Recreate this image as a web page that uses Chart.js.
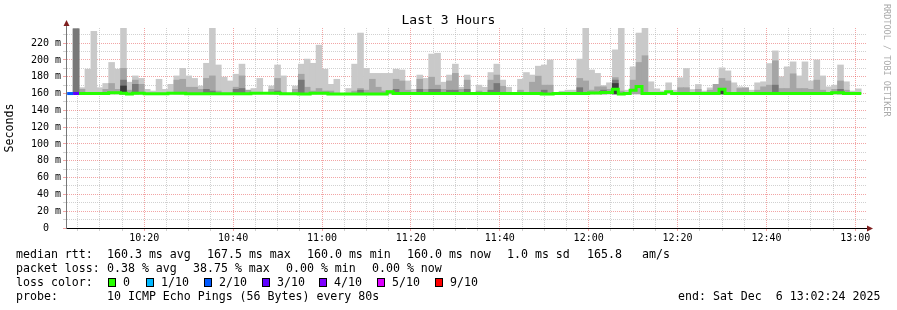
<!DOCTYPE html>
<html lang="en">
<head>
<meta charset="UTF-8">
<title>Last 3 Hours</title>
<script src="https://cdn.jsdelivr.net/npm/chart.js"></script>
<style>
  body { margin: 0; background: #fff; }
  #wrap { position: relative; width: 897px; height: 310px; font-family: "DejaVu Sans Mono", monospace; color: #000; }
  #wrap canvas { position: absolute; left: 0; top: 0; }
  .t { position: absolute; font-size: 11.6px; line-height: 14px; white-space: pre; }
  .box { position: absolute; top: 278px; width: 6px; height: 7px; border: 1px solid #000; }
  #title { position: absolute; left: 0; width: 897px; top: 12px; text-align: center; font-size: 13px; line-height: 16px; white-space: pre; }
  #mark { position: absolute; left: 882px; top: 4px; writing-mode: vertical-rl; font-size: 8.5px; color: #aaa; white-space: pre; }
</style>
</head>
<body>
<div id="wrap">
  <canvas id="smoke" width="897" height="310"></canvas>
  <div id="title">Last 3 Hours</div>
  <div id="mark">RRDTOOL / TOBI OETIKER</div>

  <div class="t" style="left:16px; top:247px">median rtt:</div>
  <div class="t" style="left:107px; top:247px">160.3 ms avg</div>
  <div class="t" style="left:207px; top:247px">167.5 ms max</div>
  <div class="t" style="left:307px; top:247px">160.0 ms min</div>
  <div class="t" style="left:407px; top:247px">160.0 ms now</div>
  <div class="t" style="left:507px; top:247px">1.0 ms sd</div>
  <div class="t" style="left:587px; top:247px">165.8</div>
  <div class="t" style="left:642px; top:247px">am/s</div>

  <div class="t" style="left:16px; top:261px">packet loss:</div>
  <div class="t" style="left:107px; top:261px">0.38 % avg</div>
  <div class="t" style="left:193px; top:261px">38.75 % max</div>
  <div class="t" style="left:286px; top:261px">0.00 % min</div>
  <div class="t" style="left:372px; top:261px">0.00 % now</div>

  <div class="t" style="left:16px; top:275px">loss color:</div>
  <div class="box" style="left:108px; background:#26ff00"></div>
  <div class="t" style="left:123px; top:275px">0</div>
  <div class="box" style="left:146px; background:#00b8ff"></div>
  <div class="t" style="left:161px; top:275px">1/10</div>
  <div class="box" style="left:204px; background:#0059ff"></div>
  <div class="t" style="left:219px; top:275px">2/10</div>
  <div class="box" style="left:262px; background:#5e00ff"></div>
  <div class="t" style="left:277px; top:275px">3/10</div>
  <div class="box" style="left:319px; background:#7e00ff"></div>
  <div class="t" style="left:334px; top:275px">4/10</div>
  <div class="box" style="left:377px; background:#dd00ff"></div>
  <div class="t" style="left:392px; top:275px">5/10</div>
  <div class="box" style="left:435px; background:#ff0000"></div>
  <div class="t" style="left:450px; top:275px">9/10</div>

  <div class="t" style="left:16px; top:289px">probe:</div>
  <div class="t" style="left:107px; top:289px">10 ICMP Echo Pings (56 Bytes) every 80s</div>
  <div class="t" style="left:678px; top:289px">end: Sat Dec  6 13:02:24 2025</div>
</div>

<script>
// time window, seconds since midnight
const startTime = 10 * 3600 + 2 * 60 + 24;   // 10:02:24
const endTime = 13 * 3600 + 2 * 60 + 24;     // 13:02:24
const firstStep = 10 * 3600 + 2 * 60 + 40;   // first 80 s rrd step
const stepSec = 80;

const xTickLabels = ['10:20', '10:40', '11:00', '11:20', '11:40', '12:00', '12:20', '12:40', '13:00'];
const yTickValues = [0, 10, 20, 30, 40, 50, 60, 70, 80, 90, 100, 110, 120, 130, 140, 150, 160, 170, 180, 190, 200, 210, 220, 230];
const yTickLabels = ['0', '20 m', '40 m', '60 m', '80 m', '100 m', '120 m', '140 m', '160 m', '180 m', '200 m', '220 m'];
const yMax = 238;

const lossColors = { 0: '#26ff00', 1: '#00b8ff', 2: '#0059ff', 3: '#5e00ff', 4: '#7e00ff', 5: '#dd00ff', 9: '#ff0000' };

// smoke bands (ms), one value per 80 s step, null = nothing drawn
const smokeBase = 159.6;
const smokeMax = [
  null, 237, 167, 189, 234, 167, 172, 197, 189, 238,
  173.5, 181, 178, 165, 163, 177, 165, 171, 181, 190,
  181, 178, 169, 196, 238, 194, 179.5, 175, 183, 195,
  164, 166, 178, null, 169, 194, 181, null, 169, 195,
  201, 196, 217.6, 189, 171, 177, null, 166, 195, 232,
  190, 184, 184, 184, 184, 189, 188, 175, 165, 182,
  178, 207, 208, 173.5, 182, 195, 167.5, 182, null, 170,
  167.5, 185, 195, 176, 167.5, null, 177, 185, 182, 192.6,
  194, 200, null, 162.8, 164, 164, 201, 238, 188, 184,
  169.6, 172.8, 212, 238, 164, 191.8, 232, 238, 174, 165.6,
  163, 172.8, 164, 178.7, 189.8, 164.8, 170.8, 163, 166.8, 171,
  190.6, 187, 172.8, 168, 166.8, 164, 172.8, 174, 195.7, 210.8,
  180, 191.8, 197.7, 181, 197.7, 175, 200, 181, 168, 170,
  194, 174, 163, 165.6
];
const smokeMid = [
  null, 237, 165, null, null, null, 165, 172, 165, 190,
  164, 176, 171, null, null, null, null, null, 176, 177,
  167.5, 167.5, 165, 178, 181, 163, null, null, 167.5, 181,
  164, null, null, null, 165, 178, null, null, 165, 183,
  167.5, 163, 166, 163, 163, null, null, null, 163, 166,
  164, 177, 167.5, 163, 163, 177, 175, 164, null, 177,
  165, 179.5, 170, 165, 175, 184, 165, 176, null, 163,
  null, 176, 182, 168.7, null, null, 164, null, 173.5, 180.7,
  170, 170, null, null, null, null, 178, 175, 164, 168,
  168, 165, 179, 163, null, 176, 197, 205, null, null,
  null, null, null, 167, 167, null, 165, null, 164, 171,
  178, 175, null, 166, 166.8, null, 164, 168, 170, 199,
  166, 166, 183.5, 166, 166, 165, 176, 164, null, 165,
  175, 164, null, null
];
const smokeDark = [
  null, 237, null, null, null, null, null, null, null, 176,
  null, 171, null, null, null, null, null, null, null, null,
  null, null, null, 165, 163, null, null, null, 165, 166,
  null, null, null, null, null, 163, null, null, null, 176,
  null, null, null, null, null, null, null, null, null, 164,
  null, null, null, null, null, 165, null, null, null, 165,
  null, 165, 165, null, 164, 164, null, 165, null, null,
  null, 164, 172, null, null, null, null, null, null, null,
  164, null, null, null, null, null, 167, null, null, null,
  164, null, 176, null, null, null, null, null, null, null,
  null, null, null, null, null, null, null, null, null, null,
  166, null, null, null, null, null, null, null, null, 170,
  null, null, null, null, null, null, null, null, null, null,
  165, null, null, null
];
const smokeCore = [
  null, null, null, null, null, null, null, null, null, 169,
  null, null, null, null, null, null, null, null, null, null,
  null, null, null, null, null, null, null, null, null, null,
  null, null, null, null, null, null, null, null, null, null,
  null, null, null, null, null, null, null, null, null, null,
  null, null, null, null, null, null, null, null, null, null,
  null, null, null, null, null, null, null, null, null, null,
  null, null, null, null, null, null, null, null, null, null,
  null, null, null, null, null, null, null, null, null, null,
  null, null, 172, null, null, null, null, null, null, null,
  null, null, null, null, null, null, null, null, null, null,
  165.5, null, null, null, null, null, null, null, null, null,
  null, null, null, null, null, null, null, null, null, null,
  null, null, null, null
];
const medianRtt = [
  160, 160, 160.2, 160.2, 160.2, 160.2, 160.2, 161, 161, 160.4,
  159.5, 160.5, 160.5, 159.7, 159.7, 159.7, 159.7, 160.5, 160.5, 160.5,
  159.7, 159.7, 159.7, 159.7, 159.7, 159.7, 159.7, 159.7, 159.7, 159.7,
  159.7, 160.3, 160.3, 160.3, 160.3, 160.3, 159.8, 159.8, 159.8, 159.5,
  159.5, 160.4, 160.4, 160.4, 159.5, 159.5, 159.5, 159.5, 159.5, 159.5,
  159.5, 159.5, 159.5, 159.5, 162, 160, 160, 160, 160, 160,
  160, 160, 160, 160, 160, 160, 160, 160, 160, 160,
  160, 160, 160, 160, 160, 160, 160, 160, 160, 160,
  159.5, 159.5, 160, 160, 160, 160, 160, 160, 160.6, 160.6,
  161.3, 161.3, 165, 159.6, 160.2, 164, 168.5, 160, 160, 160,
  160, 162, 160, 160, 160, 160, 160, 160, 160, 160,
  165, 160, 160, 160, 160, 160, 160, 160, 160, 160,
  160, 160, 160, 160, 160, 160, 160, 160, 160, 161,
  161, 160, 160, 160
];
const lossTenths = [
  2, 3, 0, 0, 0, 0, 0, 0, 0, 0,
  0, 0, 0, 0, 0, 0, 0, 0, 0, 0,
  0, 0, 0, 0, 0, 0, 0, 0, 0, 0,
  0, 0, 0, 0, 0, 0, 0, 0, 0, 0,
  0, 0, 0, 0, 0, 0, 0, 0, 0, 0,
  0, 0, 0, 0, 0, 0, 0, 0, 0, 0,
  0, 0, 0, 0, 0, 0, 0, 0, 0, 0,
  0, 0, 0, 0, 0, 0, 0, 0, 0, 0,
  0, 0, 0, 0, 0, 0, 0, 0, 0, 0,
  0, 0, 0, 0, 0, 0, 0, 0, 0, 0,
  0, 0, 0, 0, 0, 0, 0, 0, 0, 0,
  0, 0, 0, 0, 0, 0, 0, 0, 0, 0,
  0, 0, 0, 0, 0, 0, 0, 0, 0, 0,
  0, 0, 0, 0
];

const stepStart = k => firstStep + k * stepSec;
const hhmm = s => String(Math.floor(s / 3600)).padStart(2, '0') + ':' + String(Math.floor(s % 3600 / 60)).padStart(2, '0');

function smokeLayer(tops) {
  const pts = [];
  tops.forEach((top, k) => {
    if (top != null) pts.push({ x: stepStart(k) + stepSec / 2, y: [smokeBase, top] });
  });
  return pts;
}

// median as a stepped line: each value holds for its whole step
const medianPts = medianRtt.map((v, k) => ({ x: stepStart(k), y: v }));
medianPts.push({ x: stepStart(medianRtt.length), y: medianRtt[medianRtt.length - 1] });

const gray = 'rgba(171,171,171,0.55)';
const red = 'rgba(222,31,31,0.4)';

const axisArrows = {
  id: 'axisArrows',
  afterDraw(chart) {
    const { ctx, chartArea: a } = chart;
    ctx.save();
    ctx.lineWidth = 1;
    ctx.strokeStyle = '#777';
    ctx.beginPath(); ctx.moveTo(a.left + 0.5, a.top); ctx.lineTo(a.left + 0.5, a.top - 4); ctx.stroke();
    ctx.strokeStyle = '#000';
    ctx.beginPath(); ctx.moveTo(a.right, a.bottom + 0.5); ctx.lineTo(a.right + 4, a.bottom + 0.5); ctx.stroke();
    ctx.fillStyle = '#7f1f1f';
    ctx.beginPath(); ctx.moveTo(a.left + 0.5, a.top - 8); ctx.lineTo(a.left - 2.5, a.top - 2); ctx.lineTo(a.left + 3.5, a.top - 2); ctx.fill();
    ctx.beginPath(); ctx.moveTo(a.right + 7, a.bottom + 0.5); ctx.lineTo(a.right + 1, a.bottom - 2.5); ctx.lineTo(a.right + 1, a.bottom + 3.5); ctx.fill();
    ctx.restore();
  }
};

Chart.defaults.font.family = '"DejaVu Sans Mono", monospace';
Chart.defaults.color = '#000';

const barOpts = { borderWidth: 0, grouped: false, barPercentage: 1, categoryPercentage: 1 };

new Chart(document.getElementById('smoke'), {
  type: 'bar',
  data: {
    datasets: [
      { type: 'line', data: medianPts, stepped: true, borderWidth: 3, pointRadius: 0,
        borderColor: lossColors[0], borderCapStyle: 'butt', order: 0,
        segment: { borderColor: c => lossColors[lossTenths[c.p0DataIndex]] || lossColors[0] } },
      { ...barOpts, data: smokeLayer(smokeCore), backgroundColor: 'rgb(60,60,60)', order: 1 },
      { ...barOpts, data: smokeLayer(smokeDark), backgroundColor: 'rgb(120,120,120)', order: 2 },
      { ...barOpts, data: smokeLayer(smokeMid), backgroundColor: 'rgb(165,165,165)', order: 3 },
      { ...barOpts, data: smokeLayer(smokeMax), backgroundColor: 'rgb(201,201,201)', order: 4 }
    ]
  },
  options: {
    responsive: false,
    animation: false,
    devicePixelRatio: 1,
    layout: { padding: { top: 28, right: 31, left: 0, bottom: 0 } },
    plugins: { legend: { display: false }, tooltip: { enabled: false }, title: { display: false } },
    scales: {
      x: {
        type: 'linear',
        min: startTime,
        max: endTime,
        offset: false,
        afterBuildTicks: scale => {
          const ticks = [];
          for (let s = Math.ceil(startTime / 300) * 300; s <= endTime; s += 300) ticks.push({ value: s });
          scale.ticks = ticks;
        },
        afterFit: scale => { scale.height = 82; scale.paddingLeft = 0; scale.paddingRight = 0; },
        ticks: {
          autoSkip: false,
          maxRotation: 0,
          padding: 1,
          font: { size: 10 },
          callback: v => (xTickLabels.includes(hhmm(v)) && v % 1200 === 0) ? hhmm(v) : ''
        },
        grid: {
          offset: false,
          tickLength: 3,
          color: c => (c.tick && c.tick.value % 1200 === 0) ? red : gray
        },
        border: { color: '#000', width: 1, dash: [1, 1] }
      },
      y: {
        min: 0,
        max: yMax,
        afterBuildTicks: scale => { scale.ticks = yTickValues.map(v => ({ value: v })); },
        afterFit: scale => { scale.width = 66; scale.paddingTop = 0; scale.paddingBottom = 0; },
        ticks: {
          autoSkip: false,
          padding: 2,
          font: { size: 10 },
          callback: v => {
            if (v % 20 !== 0) return '';
            const lbl = yTickLabels[v / 20];
            return v === 0 ? lbl + '  ' : lbl;
          }
        },
        grid: {
          tickLength: 3,
          color: c => (c.tick && c.tick.value % 20 === 0) ? red : gray
        },
        border: { color: '#777', width: 1, dash: [1, 1] },
        title: { display: true, text: 'Seconds', font: { size: 11.6 }, padding: { top: 3, bottom: 0 } }
      }
    }
  },
  plugins: [axisArrows]
});
</script>
</body>
</html>
